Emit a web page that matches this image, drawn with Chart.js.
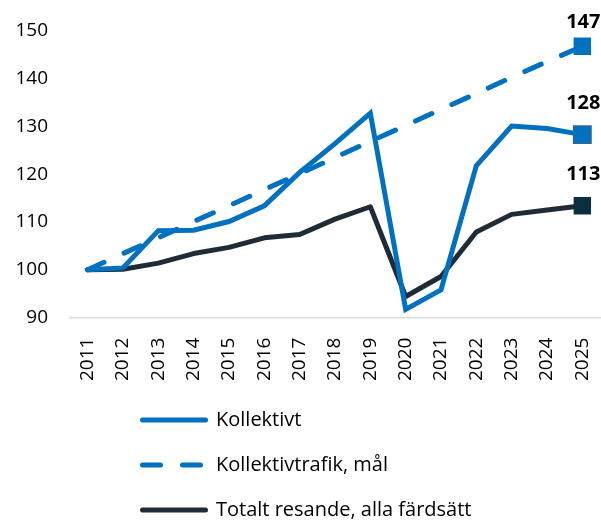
<!DOCTYPE html>
<html>
<head>
<meta charset="utf-8">
<script src="https://cdn.jsdelivr.net/npm/chart.js@4/dist/chart.umd.min.js"></script>
<style>
  html, body { margin: 0; padding: 0; background: #ffffff; }
  #wrap { width: 601px; height: 520px; position: relative; }
</style>
</head>
<body>
<div id="wrap"><canvas id="chart"></canvas></div>
<script>
const years = ["2011", "2012", "2013", "2014", "2015", "2016", "2017", "2018",
               "2019", "2020", "2021", "2022", "2023", "2024", "2025"];

const kollektivt = [100, 100.4, 108.2, 108.3, 110.1, 113.4, 120.4, 126.4,
                    132.8, 91.7, 95.8, 121.8, 130.1, 129.6, 128.3];

const kollektivMal = [100, 103.4, 106.7, 110.1, 113.4, 116.8, 120.1, 123.5,
                      126.9, 130.2, 133.6, 136.9, 140.3, 143.6, 146.8];

const totalt = [100, 100.1, 101.4, 103.4, 104.7, 106.7, 107.4, 110.6,
                113.2, 94.4, 98.6, 107.9, 111.6, 112.5, 113.4];

const yTicks = [90, 100, 110, 120, 130, 140, 150];

const seriesNames = ["Kollektivt", "Kollektivtrafik, mål", "Totalt resande, alla färdsätt"];

const BLUE = "#0070C0";
const DARK = "#1F2B36";
const FONT = "'Open Sans', 'Noto Sans', sans-serif";

// only the last point gets a square marker
const lastOnly = size => ctx => ctx.dataIndex === years.length - 1 ? size : 0;

/* ---------- value labels above the last point ---------- */
const endLabels = {
  id: "endLabels",
  afterDatasetsDraw(chart) {
    const ctx = chart.ctx;
    ctx.save();
    ctx.font = "bold 20px " + FONT;
    ctx.fillStyle = "#000000";
    ctx.textAlign = "center";
    ctx.textBaseline = "alphabetic";
    chart.data.datasets.forEach((ds, i) => {
      const meta = chart.getDatasetMeta(i);
      const pt = meta.data[meta.data.length - 1];
      const val = ds.data[ds.data.length - 1];
      const y = Math.max(pt.y - 26, 28);
      ctx.fillText(Math.round(val), pt.x + 1, y);
    });
    ctx.restore();
  }
};

/* ---------- legend as a vertical list below the chart ---------- */
const stackedLegend = {
  id: "stackedLegend",
  afterDraw(chart) {
    const ctx = chart.ctx;
    const rows = [420, 465, 510];
    ctx.save();
    ctx.font = "20px " + FONT;
    ctx.textBaseline = "middle";
    ctx.textAlign = "left";
    chart.data.datasets.forEach((ds, i) => {
      const y = rows[i];
      ctx.beginPath();
      ctx.strokeStyle = ds.borderColor;
      ctx.lineWidth = 5;
      ctx.lineCap = "round";
      ctx.setLineDash(ds.borderDash || []);
      ctx.moveTo(142.5, y);
      ctx.lineTo(205.5, y);
      ctx.stroke();
      ctx.setLineDash([]);
      ctx.fillStyle = "#000000";
      ctx.fillText(ds.label, 216, y);
    });
    ctx.restore();
  }
};

new Chart(document.getElementById("chart"), {
  type: "line",
  data: {
    labels: years,
    datasets: [
      {
        label: seriesNames[0],
        data: kollektivt,
        borderColor: BLUE,
        backgroundColor: BLUE,
        borderWidth: 5,
        borderCapStyle: "round",
        pointStyle: "rect",
        pointRadius: lastOnly(12.3),
        pointHoverRadius: lastOnly(12.3),
        pointBackgroundColor: BLUE,
        pointBorderColor: "#2A6B96",
        pointBorderWidth: 1.5,
        tension: 0
      },
      {
        label: seriesNames[1],
        data: kollektivMal,
        borderColor: BLUE,
        backgroundColor: BLUE,
        borderWidth: 5,
        borderDash: [18, 22],
        borderCapStyle: "round",
        pointStyle: "rect",
        pointRadius: lastOnly(12.3),
        pointHoverRadius: lastOnly(12.3),
        pointBackgroundColor: BLUE,
        pointBorderColor: BLUE,
        pointBorderWidth: 0,
        tension: 0
      },
      {
        label: seriesNames[2],
        data: totalt,
        borderColor: DARK,
        backgroundColor: "#0B2E40",
        borderWidth: 5,
        borderCapStyle: "round",
        borderJoinStyle: "round",
        pointStyle: "rect",
        pointRadius: lastOnly(12.3),
        pointHoverRadius: lastOnly(12.3),
        pointBackgroundColor: "#0B2E40",
        pointBorderColor: "#0B2E40",
        pointBorderWidth: 0,
        tension: 0
      }
    ]
  },
  options: {
    responsive: true,
    maintainAspectRatio: false,
    animation: false,
    layout: {
      autoPadding: false,
      padding: { top: 31, right: 1, bottom: 119, left: 0 }
    },
    plugins: {
      legend: { display: false },
      tooltip: { enabled: false }
    },
    scales: {
      x: {
        offset: true,
        grid: { display: false, drawTicks: false },
        border: { display: true, color: "#D9D9D9", width: 1.5 },
        afterFit: axis => {
          axis.paddingLeft = 0;
          axis.paddingRight = 0;
        },
        ticks: {
          color: "#000000",
          font: { family: FONT, size: 19 },
          minRotation: 90,
          maxRotation: 90,
          padding: 20,
          autoSkip: false
        }
      },
      y: {
        min: yTicks[0],
        max: yTicks[yTicks.length - 1],
        grid: { display: false, drawTicks: false },
        border: { display: false },
        afterBuildTicks: axis => {
          axis.ticks = yTicks.map(v => ({ value: v }));
        },
        afterFit: axis => {
          axis.width = 70;
          axis.paddingTop = 0;
          axis.paddingBottom = 0;
        },
        ticks: {
          color: "#000000",
          font: { family: FONT, size: 19 },
          padding: 22
        }
      }
    }
  },
  plugins: [endLabels, stackedLegend]
});
</script>
</body>
</html>
